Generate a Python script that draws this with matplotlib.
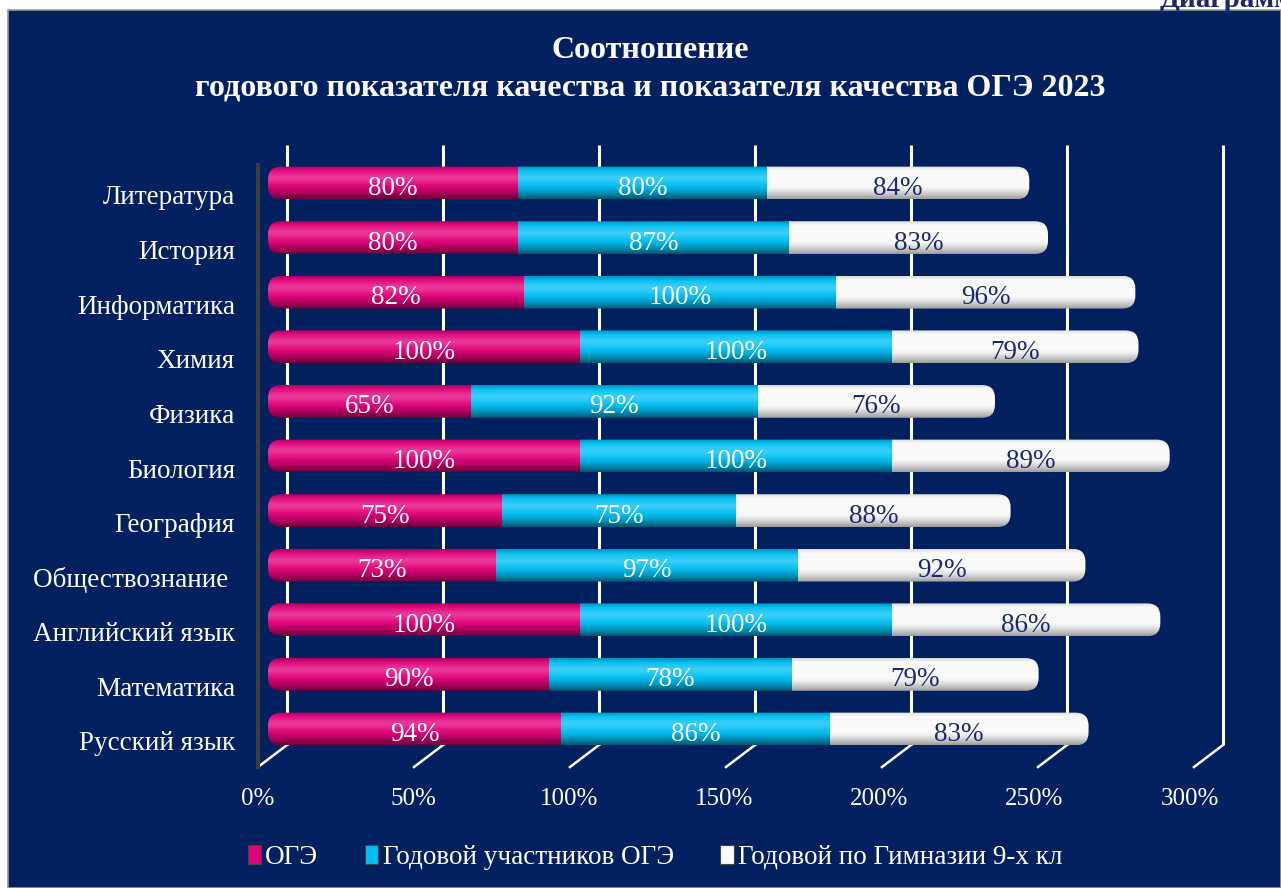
import numpy as np
import matplotlib
matplotlib.use("Agg")
import matplotlib.pyplot as plt
from matplotlib.patches import FancyBboxPatch, Rectangle, Patch
from matplotlib.transforms import ScaledTranslation
from matplotlib.colors import to_rgb

# Данные
предметы = ["Литература", "История", "Информатика", "Химия", "Физика", "Биология",
            "География", "Обществознание ", "Английский язык", "Математика", "Русский язык"]
огэ = [80, 80, 82, 100, 65, 100, 75, 73, 100, 90, 94]
годовой_участники = [80, 87, 100, 100, 92, 100, 75, 97, 100, 78, 86]
годовой_гимназия = [84, 83, 96, 79, 76, 89, 88, 92, 86, 79, 83]
серии = ["ОГЭ", "Годовой участников ОГЭ", "Годовой по Гимназии 9-х кл"]
тики = [0, 50, 100, 150, 200, 250, 300]

фон = "#002060"
цвета = ["#E2007A", "#00BFF3", "#FAFAFA"]
цвет_подписей = ["white", "white", "#1B2A6B"]
шрифт = ["Liberation Serif", "DejaVu Serif"]

W, H, DPI = 1281, 888, 100
fig = plt.figure(figsize=(W / DPI, H / DPI), dpi=DPI)
fig.patch.set_facecolor("white")
fig.patches.append(Rectangle((8 / W, 0), 1 - 8 / W, 1 - 10 / H, transform=fig.transFigure,
                             facecolor=фон, edgecolor="#9a9a9a", lw=1.2, zorder=-5))
fig.text(1160 / W, 1 - 7 / H, "Диаграмма", color="#1B2A6B", fontsize=21, fontweight="bold",
         family=шрифт, va="baseline")

ax = fig.add_axes([268 / W, (H - 756.3) / H, 936 / W, 600.6 / H])
ax.set_facecolor("none")
for s in ax.spines.values():
    s.set_visible(False)
ax.set_xlim(0, 300)
ax.set_ylim(-0.5, 10.5)

n = len(предметы)
ypos = np.arange(n)[::-1]


def px(dx, dy=0):
    return ScaledTranslation(dx / DPI, -dy / DPI, fig.dpi_scale_trans)


# сетка в перспективе
y_top = 10 + (183 - 145) / 54.6
y_bot = (729 - 745) / 54.6
y_front = (729 - 767) / 54.6
for t in тики:
    ax.plot([t, t], [y_top, y_bot], color="white", lw=2.2, transform=ax.transData + px(19),
            clip_on=False, zorder=1, solid_capstyle="butt")
    ax.plot([t, t - 29 * 300 / 936], [y_bot, y_front], color="white", lw=1.8,
            transform=ax.transData + px(19), clip_on=False, zorder=1)
ax.plot([0, 0], [10 + (183 - 165) / 54.6, y_front], color="#3c3c3c", lw=3,
        transform=ax.transData + px(-10), clip_on=False, zorder=1)


def профиль(base, белый=False):
    t = np.linspace(0, 1, 64)
    c = np.array(to_rgb(base))
    свет = 0.22 * np.exp(-((t - 0.35) / 0.18) ** 2)
    тень = 0.55 * np.clip((t - 0.55) / 0.45, 0, 1) ** 1.5 + 0.22 * np.clip(1 - t / 0.14, 0, 1)
    if белый:
        тень = 0.38 * np.clip((t - 0.6) / 0.4, 0, 1) ** 1.4 + 0.12 * np.clip(1 - t / 0.12, 0, 1)
    col = c[None, :] * (1 - тень[:, None]) + (1 - c[None, :]) * свет[:, None]
    return np.clip(col, 0, 1)[:, None, :]


h = 0.6
rr = 13 * 300 / 936
asp = (1 / 54.6) / (300 / 936)
for i in range(n):
    y = ypos[i]
    vals = [огэ[i], годовой_участники[i], годовой_гимназия[i]]
    total = sum(vals)
    clip = FancyBboxPatch((0, y - h / 2), total, h, boxstyle=f"round,pad=0,rounding_size={rr}",
                          mutation_aspect=asp, facecolor="none", edgecolor="none",
                          transform=ax.transData)
    ax.add_patch(clip)
    left = 0
    for k, v in enumerate(vals):
        im = ax.imshow(профиль(цвета[k], k == 2), extent=(left, left + v, y - h / 2, y + h / 2),
                       aspect="auto", origin="upper", interpolation="bilinear", zorder=2)
        im.set_clip_path(clip)
        ax.text(left + v / 2, y - 0.1, f"{v}%", ha="center", va="center", fontsize=19.5,
                color=цвет_подписей[k], family=шрифт, zorder=3)
        left += v

ax.set_xlim(0, 300)
ax.set_ylim(-0.5, 10.5)

ax.set_yticks(ypos)
ax.set_yticklabels(предметы, fontsize=19.5, color="white", family=шрифт)
ax.tick_params(axis="y", length=0, pad=(268 - 235) * 72 / DPI)
for lab in ax.get_yticklabels():
    lab.set_transform(lab.get_transform() + px(0, 12))
ax.set_xticks(тики)
ax.set_xticklabels([f"{t}%" for t in тики], fontsize=18, color="white", family=шрифт)
ax.tick_params(axis="x", length=0, pad=23)
for j, lab in enumerate(ax.get_xticklabels()):
    lab.set_transform(lab.get_transform() + px(-10 - 0.7 * j))

fig.text(650 / W, 1 - 50 / H, "Соотношение", ha="center", va="center", color="white",
         fontsize=23, fontweight="bold", family=шрифт)
fig.text(650 / W, 1 - 88 / H, "годового показателя качества и показателя качества ОГЭ 2023",
         ha="center", va="center", color="white", fontsize=23, fontweight="bold", family=шрифт)

handles = [Patch(facecolor=c, edgecolor="#444444", lw=0.8) for c in цвета]
leg = fig.legend(handles, серии, loc="center", bbox_to_anchor=(655 / W, 1 - 857 / H), ncol=3,
                 frameon=False, handlelength=0.5, handleheight=0.7, handletextpad=0.15,
                 columnspacing=1.72, prop={"family": шрифт, "size": 19.5})
for t in leg.get_texts():
    t.set_color("white")

fig.savefig("out.png", dpi=DPI, facecolor=fig.get_facecolor())
